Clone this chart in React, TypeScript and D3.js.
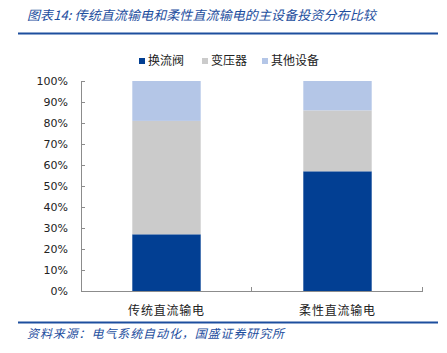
import * as d3 from 'd3';
import React, { useRef, useEffect } from 'react';

const categories = ['传统直流输电', '柔性直流输电'];
const seriesNames = ['换流阀', '变压器', '其他设备'];
const valveShare = [27, 57];
const transformerShare = [54, 29];
const otherShare = [19, 14];
const yTicks = [0, 10, 20, 30, 40, 50, 60, 70, 80, 90, 100];

const colors = ['#023F93', '#CBCBCB', '#B4C6E7'];
const blue = '#1D4E9E';
const cjk = '"Noto Sans CJK SC", "Noto Sans CJK JP", sans-serif';

function StackedChart({ width, height }: { width: number; height: number }) {
    const ref = useRef<SVGSVGElement>(null);

    useEffect(() => {
        draw();
    }, []);

    const draw = () => {
        const svg = d3.select(ref.current);
        svg.selectAll('*').remove();

        const margin = { top: 81, right: 24, bottom: 62, left: 81 };
        const w = width - margin.left - margin.right;
        const h = height - margin.top - margin.bottom;

        // title + rule
        svg.append('text')
            .attr('x', 27)
            .attr('y', 20)
            .attr('fill', blue)
            .style('font-family', cjk)
            .style('font-style', 'italic')
            .style('font-size', '13px')
            .style('letter-spacing', '0.1px')
            .text('图表14:  传统直流输电和柔性直流输电的主设备投资分布比较');
        svg.append('line')
            .attr('x1', 18).attr('x2', 438)
            .attr('y1', 33.5).attr('y2', 33.5)
            .attr('stroke', blue).attr('stroke-width', 2);

        // footer
        svg.append('line')
            .attr('x1', 18).attr('x2', 438)
            .attr('y1', 322.5).attr('y2', 322.5)
            .attr('stroke', blue).attr('stroke-width', 2);
        svg.append('text')
            .attr('x', 27)
            .attr('y', 338)
            .attr('fill', blue)
            .style('font-family', cjk)
            .style('font-style', 'italic')
            .style('font-size', '12px')
            .style('letter-spacing', '0.9px')
            .text('资料来源：电气系统自动化，国盛证券研究所');

        const g = svg.append('g')
            .attr('transform', 'translate(' + margin.left + ',' + margin.top + ')');

        const x = d3.scaleBand().domain(categories).range([0, w]).paddingInner(0.6).paddingOuter(0.3);
        const xb = d3.scaleBand().domain(categories).range([0, w]);
        const y = d3.scaleLinear().domain([0, 100]).range([h, 0]);

        const table = categories.map((c, i) => ({
            cat: c,
            [seriesNames[0]]: valveShare[i],
            [seriesNames[1]]: transformerShare[i],
            [seriesNames[2]]: otherShare[i],
        }));
        const stacked = d3.stack<any>().keys(seriesNames)(table);

        g.selectAll('g.layer')
            .data(stacked)
            .enter()
            .append('g')
            .attr('class', 'layer')
            .attr('fill', (d, i) => colors[i])
            .selectAll('rect')
            .data(d => d)
            .enter()
            .append('rect')
            .attr('x', d => x(d.data.cat) as number)
            .attr('width', x.bandwidth())
            .attr('y', d => y(d[1]))
            .attr('height', d => y(d[0]) - y(d[1]));

        // y axis, ticks pointing inward
        const yAxis = g.append('g')
            .call(d3.axisRight(y).tickValues(yTicks).tickSize(4).tickFormat(() => ''));
        yAxis.select('.domain').attr('stroke', '#8c8c8c').attr('d', 'M0.5,' + h + 'V0');
        yAxis.selectAll('.tick line').attr('stroke', '#8c8c8c');
        g.append('g')
            .selectAll('text')
            .data(yTicks)
            .enter()
            .append('text')
            .attr('x', -13)
            .attr('y', d => y(d))
            .attr('dy', '0.36em')
            .attr('text-anchor', 'end')
            .attr('fill', '#222')
            .style('font-family', '"DejaVu Sans", Verdana, sans-serif')
            .style('font-size', '11px')
            .text(d => d + '%');

        // x axis with boundary ticks pointing up
        g.append('line')
            .attr('x1', 0).attr('x2', w)
            .attr('y1', h + 0.5).attr('y2', h + 0.5)
            .attr('stroke', '#8c8c8c');
        const bounds = [...categories.map(c => xb(c) as number), w];
        g.selectAll('line.xt')
            .data(bounds.slice(1))
            .enter()
            .append('line')
            .attr('class', 'xt')
            .attr('x1', d => d - 0.5).attr('x2', d => d - 0.5)
            .attr('y1', h - 4).attr('y2', h)
            .attr('stroke', '#8c8c8c');
        g.selectAll('text.xl')
            .data(categories)
            .enter()
            .append('text')
            .attr('class', 'xl')
            .attr('x', d => (x(d) as number) + x.bandwidth() / 2)
            .attr('y', h + 24)
            .attr('text-anchor', 'middle')
            .attr('fill', '#222')
            .style('font-family', cjk)
            .style('font-size', '12px')
            .style('letter-spacing', '0.8px')
            .text(d => d);

        // legend
        const legendX = [139, 202, 262];
        const lg = svg.append('g');
        seriesNames.forEach((s, i) => {
            lg.append('rect')
                .attr('x', legendX[i]).attr('y', 58)
                .attr('width', 6).attr('height', 6)
                .attr('fill', colors[i]);
            lg.append('text')
                .attr('x', legendX[i] + 9)
                .attr('y', 61)
                .attr('dy', '0.36em')
                .attr('fill', '#222')
                .style('font-family', cjk)
                .style('font-size', '12px')
                .text(s);
        });
    };

    return (
        <svg ref={ref} width={width} height={height}
            style={{ position: 'absolute', left: 0, top: 0, background: '#fff' }}>
        </svg>
    );
}

export default function App() {
    return <StackedChart width={447} height={353} />;
}
